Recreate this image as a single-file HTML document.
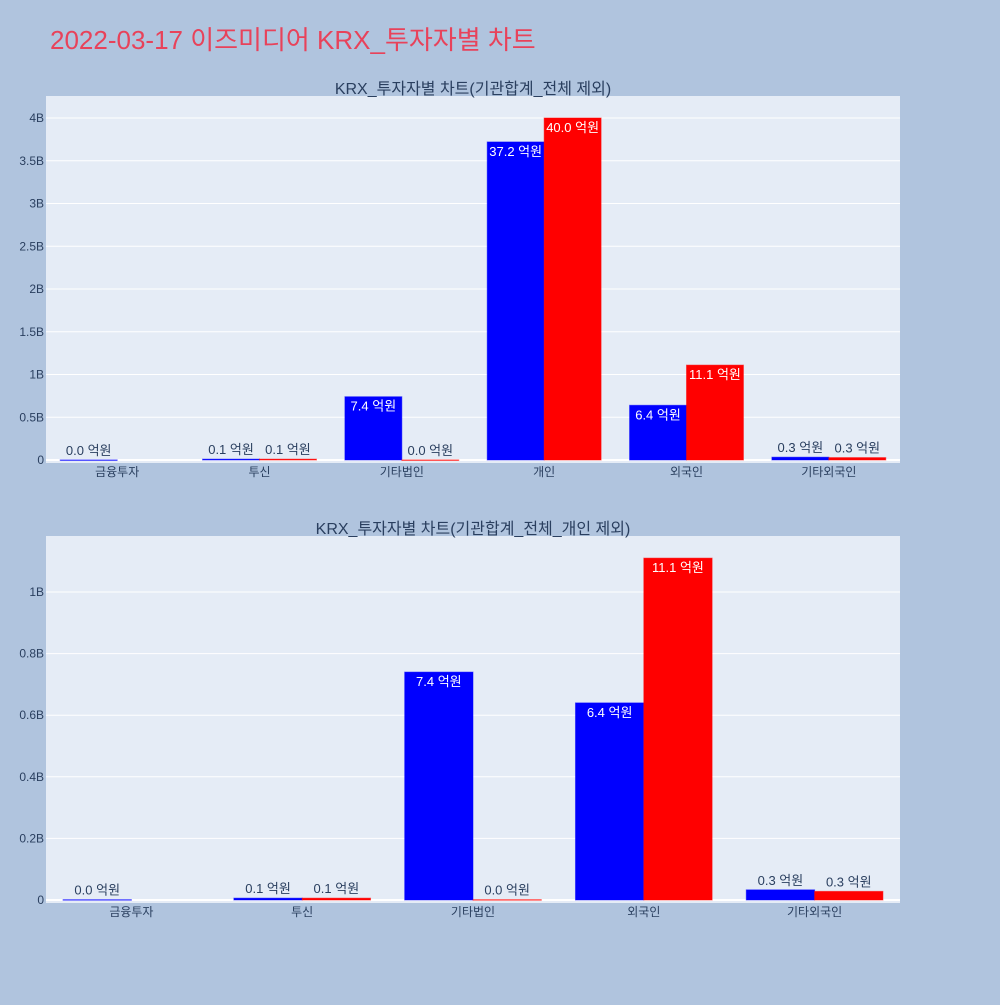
<!DOCTYPE html>
<html><head><meta charset="utf-8"><style>
body{margin:0;background:#b0c4de;font-family:"Liberation Sans","Noto Sans CJK KR",sans-serif;}
svg text{font-family:"Liberation Sans","Noto Sans CJK KR",sans-serif;}
</style></head><body>
<svg id="s" width="1000" height="1000" xmlns="http://www.w3.org/2000/svg">
<rect width="1000" height="1000" fill="#b0c4de"/>
<text x="50" y="49" font-size="26" fill="#e8425a">2022-03-17 이즈미디어 KRX_투자자별 차트</text>
</svg>
<script>
const cats1=["금융투자","투신","기타법인","개인","외국인","기타외국인"];
const blue1=[0.001e9,0.01e9,0.74e9,3.72e9,0.64e9,0.033e9];
const red1=[null,0.01e9,0.001e9,4.0e9,1.11e9,0.028e9];
const ticks1=[0,0.5e9,1e9,1.5e9,2e9,2.5e9,3e9,3.5e9,4e9];
const tickLabels1=["0","0.5B","1B","1.5B","2B","2.5B","3B","3.5B","4B"];
const cats2=["금융투자","투신","기타법인","외국인","기타외국인"];
const blue2=[0.001e9,0.006e9,0.74e9,0.64e9,0.033e9];
const red2=[null,0.006e9,0.001e9,1.11e9,0.028e9];
const ticks2=[0,0.2e9,0.4e9,0.6e9,0.8e9,1e9];
const tickLabels2=["0","0.2B","0.4B","0.6B","0.8B","1B"];
const NS="http://www.w3.org/2000/svg";
const svg=document.getElementById('s');
function mk(tag,attrs,parent){const e=document.createElementNS(NS,tag);for(const k in attrs)e.setAttribute(k,attrs[k]);(parent||svg).appendChild(e);return e;}
function chart(cfg){
  const {x0,x1,y0,y1,zeroY,maxV,maxY,cats,blue,red,ticks,tickLabels,title,prefix}=cfg;
  const g=mk('g',{});
  
  
  const bg=mk('rect',{x:x0,y:y0,width:x1-x0,height:y1-y0,fill:'#e5ecf6'},g);
  
  
  const yS=v=>zeroY-(v/maxV)*(zeroY-maxY);
  ticks.forEach((t,i)=>{
    const y=yS(t);
    const l=mk('line',{x1:x0,x2:x1,y1:y,y2:y,stroke:'#fff','stroke-width':i==0?2:1},g);
    
    
    const tx=mk('text',{x:x0-2,y:y+4,'text-anchor':'end','font-size':12,fill:'#2a3f5f'},g);
    tx.textContent=tickLabels[i];
    
    
  });
  const bw=(x1-x0)/cats.length, barW=bw*0.4;
  cats.forEach((c,i)=>{
    const cx=x0+bw*(i+0.5);
    const ct=mk('text',{x:cx,y:y1+13,'text-anchor':'middle','font-size':12,fill:'#2a3f5f'},g);
    ct.textContent=c;
    
    
    [[blue[i],'#0000ff',cx-barW],[red[i],'#ff0000',cx]].forEach(([v,col,bx],k)=>{
      if(v===null)return;
      const y=yS(v), h=zeroY-y;
      const r=mk('rect',{x:bx,y:y,width:barW,height:Math.max(h,0.5),fill:col,stroke:col,'stroke-opacity':0.5},g);
      
      
      const lab=(v/1e8).toFixed(1)+' 억원';
      const tw=lab.length*6.6;
      const t=mk('text',{'font-size':13,'text-anchor':'middle'},g);
      t.textContent=lab;
      
      
      if(h>30){
        t.setAttribute('fill','#fff');
        if(tw>barW-4){
          const mx=bx+barW/2-4, my=y+4+tw/2;
          t.setAttribute('x',mx);t.setAttribute('y',my);
          t.setAttribute('transform','rotate(90 '+mx+' '+my+')');
          t.setAttribute('dominant-baseline','middle');
          t.setAttribute('x',bx+barW/2);
          t.setAttribute('transform','rotate(90 '+(bx+barW/2)+' '+my+')');
        } else {t.setAttribute('x',bx+barW/2);t.setAttribute('y',y+14);}
      } else {
        t.setAttribute('fill','#2a3f5f');
        t.setAttribute('x',bx+barW/2);t.setAttribute('y',y-5);
      }
    });
  });
  const tt=mk('text',{x:(x0+x1)/2,y:y0-2,'text-anchor':'middle','font-size':16,fill:'#2a3f5f'},g);
  tt.textContent=title;
  
  
}
chart({x0:46,x1:900,y0:96,y1:463,zeroY:460,maxV:4e9,maxY:118,cats:cats1,blue:blue1,red:red1,ticks:ticks1,tickLabels:tickLabels1,title:"KRX_투자자별 차트(기관합계_전체 제외)",prefix:'top'});
chart({x0:46,x1:900,y0:536,y1:903,zeroY:900,maxV:1e9,maxY:592,cats:cats2,blue:blue2,red:red2,ticks:ticks2,tickLabels:tickLabels2,title:"KRX_투자자별 차트(기관합계_전체_개인 제외)",prefix:'bottom'});
</script>
</body></html>
